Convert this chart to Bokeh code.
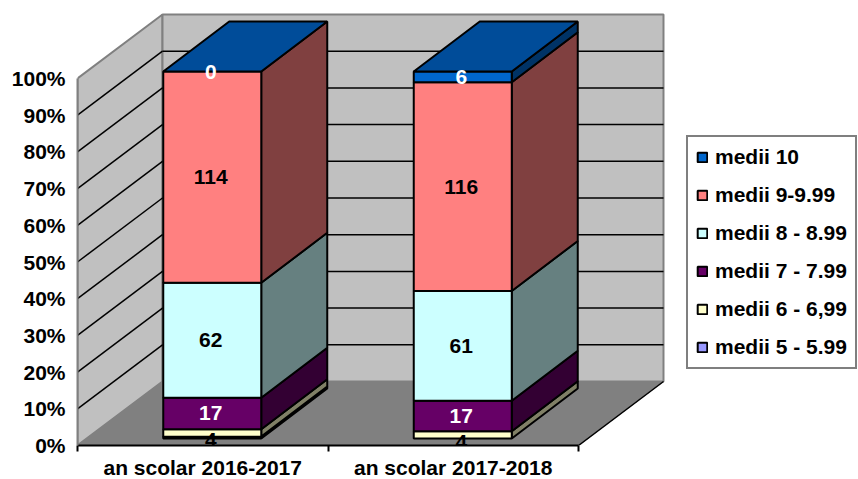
from bokeh.embed import file_html
from bokeh.resources import INLINE
from bokeh.plotting import figure
from bokeh.core.properties import value
from bokeh.models import (Range1d, FixedTicker, PrintfTickFormatter, Legend, LegendItem,
                          LabelSet, ColumnDataSource, LinearAxis)

categories = ["an scolar 2016-2017", "an scolar 2017-2018"]
series_names = ["medii 5 - 5.99", "medii 6 - 6,99", "medii 7 - 7.99",
                "medii 8 - 8.99", "medii 9-9.99", "medii 10"]
medii_5 = [1, 0]
medii_6 = [4, 4]
medii_7 = [17, 17]
medii_8 = [62, 61]
medii_9 = [114, 116]
medii_10 = [0, 6]
series_values = [medii_5, medii_6, medii_7, medii_8, medii_9, medii_10]
front_colors = ["#9999FF", "#FFFFCC", "#660066", "#CCFFFF", "#FF8080", "#0066CC"]
side_colors = ["#4D4D80", "#808066", "#330033", "#668080", "#804040", "#003366"]
top_color = "#004C99"
label_colors = [None, "#000000", "#FFFFFF", "#000000", "#000000", "#FFFFFF"]
label_shift_px = [0, -7.5, 0, 0, 0, 0]
y_ticks = list(range(0, 101, 10))

# layout (pixels)
W, H = 858, 479
LEFT, BASE = 77, 445
CAT_PX, PCT_PX = 250.5, 3.67
WALL_DX, WALL_DY = 85 / CAT_PX, 64 / PCT_PX
BAR_DX, BAR_DY = 66 / CAT_PX, 50 / PCT_PX
INSET_DX, INSET_DY = (WALL_DX - BAR_DX) / 2, (WALL_DY - BAR_DY) / 2
BAR_W = 98 / CAT_PX
FONT = "Liberation Sans"
BAR_LW = 2

p = figure(width=W, height=H, frame_width=W - LEFT, frame_height=BASE,
           output_backend="svg", toolbar_location=None,
           x_range=Range1d(0, (W - LEFT) / CAT_PX), y_range=Range1d(0, BASE / PCT_PX),
           min_border_left=LEFT, min_border_right=0, min_border_top=0,
           min_border_bottom=H - BASE, x_axis_location=None, y_axis_location=None,
           background_fill_color="white", border_fill_color="white", outline_line_color=None)
p.grid.visible = False

n = len(categories)
GRAY = "#808080"
WALL = "#C0C0C0"
inner = y_ticks[1:-1]
# left wall, back wall, floor
p.patch([0, WALL_DX, WALL_DX, 0], [0, WALL_DY, 100 + WALL_DY, 100],
        fill_color=WALL, line_color=GRAY, line_width=2)
p.patch([WALL_DX, n + WALL_DX, n + WALL_DX, WALL_DX],
        [WALL_DY, WALL_DY, 100 + WALL_DY, 100 + WALL_DY],
        fill_color=WALL, line_color=GRAY, line_width=2)
p.segment([0] * len(inner), inner, [WALL_DX] * len(inner), [t + WALL_DY for t in inner],
          line_color="black", line_width=1.5)
p.segment([WALL_DX] * len(inner), [t + WALL_DY for t in inner],
          [n + WALL_DX] * len(inner), [t + WALL_DY for t in inner],
          line_color="black", line_width=1.5)
p.patch([0, n, n + WALL_DX, WALL_DX], [0, 0, WALL_DY, WALL_DY],
        fill_color=GRAY, line_color=GRAY, line_width=1)
p.segment([n], [0], [n + WALL_DX], [WALL_DY], line_color="black", line_width=1.5)

# bars
legend_renderers = {}
labels = {"x": [], "y": [], "text": [], "color": [], "shift": []}
for c in range(n):
    total = sum(s[c] for s in series_values)
    x0 = c + 0.5 - BAR_W / 2 + INSET_DX
    x1 = x0 + BAR_W
    cum = 0
    for k, s in enumerate(series_values):
        b = cum / total * 100 + INSET_DY
        cum += s[c]
        t = cum / total * 100 + INSET_DY
        if s[c] > 0:
            p.patch([x1, x1 + BAR_DX, x1 + BAR_DX, x1], [b, b + BAR_DY, t + BAR_DY, t],
                    fill_color=side_colors[k], line_color="black", line_width=BAR_LW)
            r = p.quad(left=[x0], right=[x1], bottom=[b], top=[t],
                       fill_color=front_colors[k], line_color="black", line_width=BAR_LW)
            legend_renderers.setdefault(k, r)
        if label_colors[k]:
            labels["x"].append((x0 + x1) / 2 - 1.5 / CAT_PX)
            labels["y"].append((b + t) / 2)
            labels["text"].append(str(s[c]))
            labels["color"].append(label_colors[k])
            labels["shift"].append(label_shift_px[k])
    p.patch([x0, x1, x1 + BAR_DX, x0 + BAR_DX],
            [100 + INSET_DY, 100 + INSET_DY, 100 + INSET_DY + BAR_DY, 100 + INSET_DY + BAR_DY],
            fill_color=top_color, line_color="black", line_width=BAR_LW)

p.add_layout(LabelSet(x="x", y="y", text="text", source=ColumnDataSource(labels),
                      text_color="color", y_offset="shift", text_align="center",
                      text_baseline="middle", text_font=value(FONT), text_font_size="21px",
                      text_font_style="bold"))

# axes
yaxis = LinearAxis(ticker=FixedTicker(ticks=y_ticks), formatter=PrintfTickFormatter(format="%d%%"),
                   bounds=(0, 100), axis_line_color=GRAY, axis_line_width=2,
                   major_tick_line_color=None, minor_tick_line_color=None,
                   major_tick_out=0, major_tick_in=0, major_label_standoff=12,
                   major_label_text_font=FONT, major_label_text_font_size="21px",
                   major_label_text_font_style="bold", major_label_text_color="black")
p.add_layout(yaxis, "left")
xaxis = LinearAxis(ticker=FixedTicker(ticks=[i + 0.5 for i in range(n)], minor_ticks=list(range(n + 1))),
                   major_label_overrides={i + 0.5: categories[i] for i in range(n)},
                   bounds=(0, n), axis_line_color="black", axis_line_width=2,
                   major_tick_out=0, major_tick_in=0, major_tick_line_color=None,
                   minor_tick_out=6, minor_tick_in=0, minor_tick_line_color="black", minor_tick_line_width=2,
                   major_label_standoff=4, major_label_text_font=FONT,
                   major_label_text_font_size="21px", major_label_text_font_style="bold",
                   major_label_text_color="black")
p.add_layout(xaxis, "below")

# legend
items = [LegendItem(label=series_names[k], renderers=[legend_renderers[k]])
         for k in reversed(range(len(series_names)))]
legend = Legend(items=items, location=(686 - LEFT, BASE - 369), orientation="vertical",
                background_fill_color="white", background_fill_alpha=1,
                border_line_color="black", border_line_width=2, margin=0, padding=8,
                glyph_width=12, glyph_height=12, label_standoff=7, spacing=14, label_height=20,
                label_text_font=FONT, label_text_font_size="21px", label_text_font_style="bold",
                label_text_color="black", label_text_baseline="middle")
p.add_layout(legend, "center")

open("out.html", "w").write(file_html(p, INLINE))
